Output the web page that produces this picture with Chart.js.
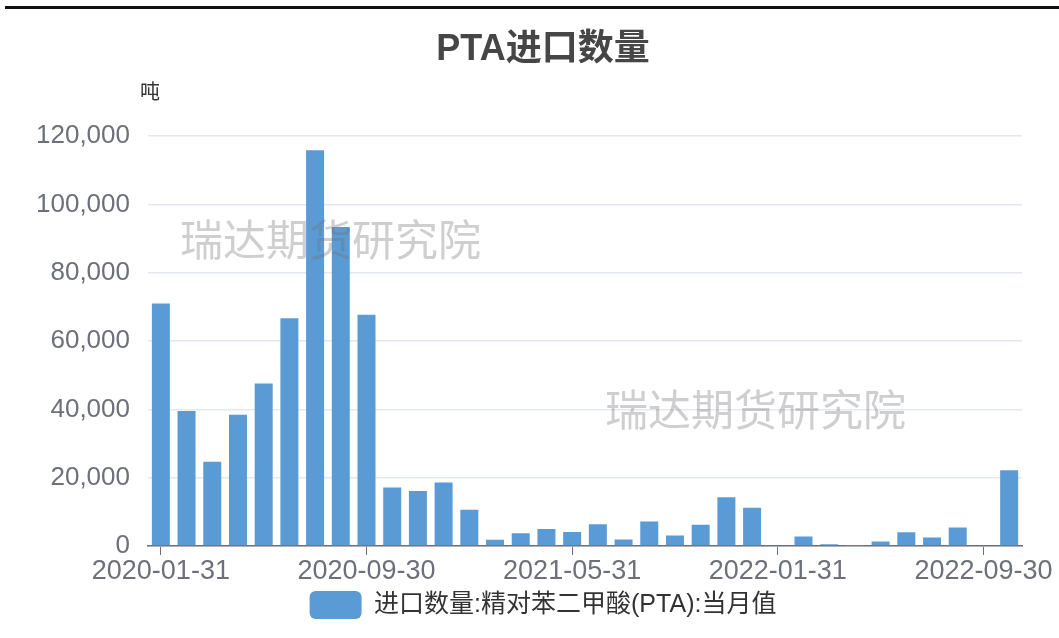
<!DOCTYPE html>
<html>
<head>
<meta charset="utf-8">
<script src="https://cdn.jsdelivr.net/npm/chart.js@4.4.0/dist/chart.umd.min.js"></script>
<style>
    html, body { margin: 0; padding: 0; background: #fff; }
    #wrap { position: relative; width: 1059px; height: 638px; }
    #topLine { position: absolute; left: 5px; right: 0; top: 6px; height: 3px; background: #111; }
</style>
</head>
<body>
<div id="wrap">
    <canvas id="importChart" width="1059" height="638"></canvas>
    <div id="topLine"></div>
</div>
<script>
// ===== Data =====
const months = [
    '2020-01-31', '2020-02-29', '2020-03-31', '2020-04-30', '2020-05-31', '2020-06-30',
    '2020-07-31', '2020-08-31', '2020-09-30', '2020-10-31', '2020-11-30', '2020-12-31',
    '2021-01-31', '2021-02-28', '2021-03-31', '2021-04-30', '2021-05-31', '2021-06-30',
    '2021-07-31', '2021-08-31', '2021-09-30', '2021-10-31', '2021-11-30', '2021-12-31',
    '2022-01-31', '2022-02-28', '2022-03-31', '2022-04-30', '2022-05-31', '2022-06-30',
    '2022-07-31', '2022-08-31', '2022-09-30', '2022-10-31'
];

const importVolume = [
    71000, 39500, 24700, 38400, 47600, 66700,
    115900, 93400, 67700, 17100, 16100, 18600,
    10600, 1800, 3700, 5000, 4100, 6400,
    1900, 7200, 3100, 6200, 14300, 11200,
    0, 2800, 500, 100, 1300, 4000,
    2500, 5400, 0, 22200
];

const yTicks = [0, 20000, 40000, 60000, 80000, 100000, 120000];
const labelEvery = 8;

const fontFamily = '"Liberation Sans", "Noto Sans CJK SC", sans-serif';

// Watermark + unit label, and centre title/legend over the plot span
const extrasPlugin = {
    id: 'extras',
    afterLayout(chart) {
        chart.legend.left = 64;
        chart.legend.right = chart.chartArea.right;
        chart.titleBlock.left = 64;
        chart.titleBlock.right = chart.chartArea.right;
    },
    afterDraw(chart) {
        const ctx = chart.ctx;
        const area = chart.chartArea;
        ctx.save();
        ctx.fillStyle = '#333';
        ctx.font = '20px "Noto Sans CJK SC", sans-serif';
        ctx.textAlign = 'center';
        ctx.textBaseline = 'middle';
        ctx.fillText('吨', area.left + 2, area.top - 45);

        ctx.fillStyle = 'rgba(110, 110, 110, 0.33)';
        ctx.font = '43px "Noto Sans CJK SC", sans-serif';
        ctx.textAlign = 'left';
        ctx.fillText('瑞达期货研究院', 180, 240);
        ctx.fillText('瑞达期货研究院', 605, 410);
        ctx.restore();
    }
};

const ctx = document.getElementById('importChart').getContext('2d');

new Chart(ctx, {
    type: 'bar',
    data: {
        labels: months,
        datasets: [{
            label: '进口数量:精对苯二甲酸(PTA):当月值',
            data: importVolume,
            backgroundColor: '#5b9bd5',
            borderWidth: 0,
            categoryPercentage: 0.7,
            barPercentage: 1
        }]
    },
    options: {
        responsive: false,
        animation: false,
        locale: 'en-US',
        layout: {
            padding: { left: 10, right: 37, top: 0, bottom: 9 }
        },
        plugins: {
            title: {
                display: true,
                text: 'PTA进口数量',
                color: '#464646',
                font: { size: 36, weight: 'bold', family: fontFamily },
                padding: { top: 28, bottom: 65 }
            },
            legend: {
                position: 'bottom',
                labels: {
                    boxWidth: 52,
                    boxHeight: 28,
                    useBorderRadius: true,
                    borderRadius: 6,
                    color: '#333',
                    padding: 10,
                    font: { size: 25, family: fontFamily }
                }
            },
            tooltip: { enabled: false }
        },
        scales: {
            x: {
                afterFit: function(scale) { scale.height = 35; },
                grid: {
                    offset: false,
                    drawOnChartArea: false,
                    tickLength: 9,
                    color: function(context) {
                        return context.index % labelEvery === 0 ? '#6e7079' : 'rgba(0,0,0,0)';
                    }
                },
                border: { display: true, color: '#6e7079', width: 1.5 },
                ticks: {
                    autoSkip: false,
                    maxRotation: 0,
                    minRotation: 0,
                    padding: 0,
                    color: '#6e7079',
                    font: { size: 27, family: fontFamily },
                    callback: function(value, index) {
                        return index % labelEvery === 0 ? months[index] : '';
                    }
                }
            },
            y: {
                min: yTicks[0],
                max: yTicks[yTicks.length - 1],
                afterFit: function(scale) { scale.width = 138; },
                afterBuildTicks: function(scale) {
                    scale.ticks = yTicks.map(v => ({ value: v }));
                },
                grid: {
                    color: '#e4e8f3',
                    lineWidth: 1.5,
                    drawTicks: false
                },
                border: { display: false },
                ticks: {
                    padding: 18,
                    color: '#6e7079',
                    font: { size: 26, family: fontFamily },
                    callback: function(value) {
                        return value.toLocaleString('en-US');
                    }
                }
            }
        }
    },
    plugins: [extrasPlugin]
});
</script>
</body>
</html>
